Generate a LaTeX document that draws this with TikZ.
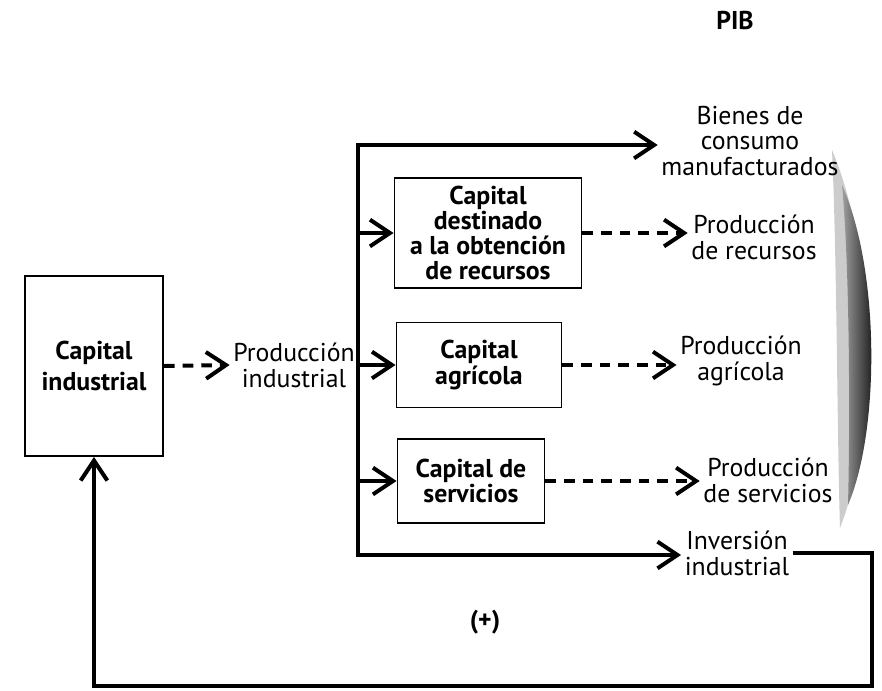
\documentclass[tikz,border=0pt]{standalone}
\usepackage{fontspec}
\setmainfont{PT Sans}
\usetikzlibrary{arrows.meta, positioning}

\begin{document}
\begin{tikzpicture}[
        x=0.03cm, y=-0.03cm,
        % Node styles
        box/.style={rectangle, draw=black, line width=1.6pt, align=center,
                    font=\bfseries\fontsize{22}{21.5}\selectfont, inner sep=2pt},
        lbl/.style={align=center, font=\fontsize{22}{22}\selectfont, inner sep=3pt},
        flow/.style={line width=3.4pt, -{Straight Barb[length=6mm, width=8mm]}},
        twoway/.style={line width=3.4pt, {Straight Barb[length=6mm, width=8mm]}-{Straight Barb[length=6mm, width=8mm]}},
        dflow/.style={flow, dash pattern=on 0.32cm off 0.24cm}
    ]
        \useasboundingbox (0,0) rectangle (882,691);

        % Grey lens of the PIB
        \fill[gray!40] (832,150) .. controls (878,260) and (878,430) .. (840,528)
                        .. controls (837,430) and (837,260) .. (832,150);
        \shade[left color=gray!75, right color=black] (842,185) .. controls (880,270) and (880,430) .. (848,505)
                        .. controls (850,430) and (850,270) .. (842,185);

        % Title
        \node[lbl, font=\bfseries\fontsize{22}{22}\selectfont] (pib) at (735,20) {PIB};

        % Capital nodes
        \node[box, minimum width=4.14cm, minimum height=5.4cm] (ind) at (94,366) {Capital\\[5pt]industrial};
        \node[lbl] (prodind) at (294,365) {Producción\\industrial};
        \node[box, minimum width=5.61cm, minimum height=3.3cm] (recur) at (488,233) {Capital\\destinado\\a la obtención\\de recursos};
        \node[box, minimum width=4.95cm, minimum height=2.55cm] (agric) at (479,365) {Capital\\agrícola};
        \node[box, minimum width=4.41cm, minimum height=2.52cm] (serv) at (471,481) {Capital de\\servicios};

        % Output labels
        \node[lbl] (bienes) at (750,141) {Bienes de\\consumo\\manufacturados};
        \node[lbl] (precur) at (754,237) {Producción\\de recursos};
        \node[lbl] (pagric) at (741,361) {Producción\\agrícola};
        \node[lbl] (pserv) at (768,480) {Producción\\de servicios};
        \node[lbl] (inver) at (737,553) {Inversión\\industrial};
        \node[lbl, font=\bfseries\fontsize{22}{22}\selectfont] (plus) at (485,622) {(+)};

        % Corners of the distribution line and loop
        \coordinate (top) at (358,145);
        \coordinate (bot) at (358,555);
        \coordinate (rc) at (872,686);

        % Distribution of industrial output
        \draw[twoway] (top -| bienes.west) -- (top) -- (bot) -- (bot -| inver.west);
        \draw[flow] (top |- recur.west) -- (recur.west);
        \draw[flow] (prodind.east) -- (agric.west);
        \draw[flow] (top |- serv.west) -- (serv.west);

        % Production flows
        \draw[dflow] (ind.east) -- (prodind.west);
        \draw[dflow] (recur.east) -- (recur.east -| precur.west);
        \draw[dflow] (agric.east) -- (agric.east -| pagric.west);
        \draw[dflow] (serv.east) -- (serv.east -| pserv.west);

        % Loop back to industrial capital
        \draw[flow] (inver.east) -| (rc) -| (ind.south);
    \end{tikzpicture}
\end{document}
